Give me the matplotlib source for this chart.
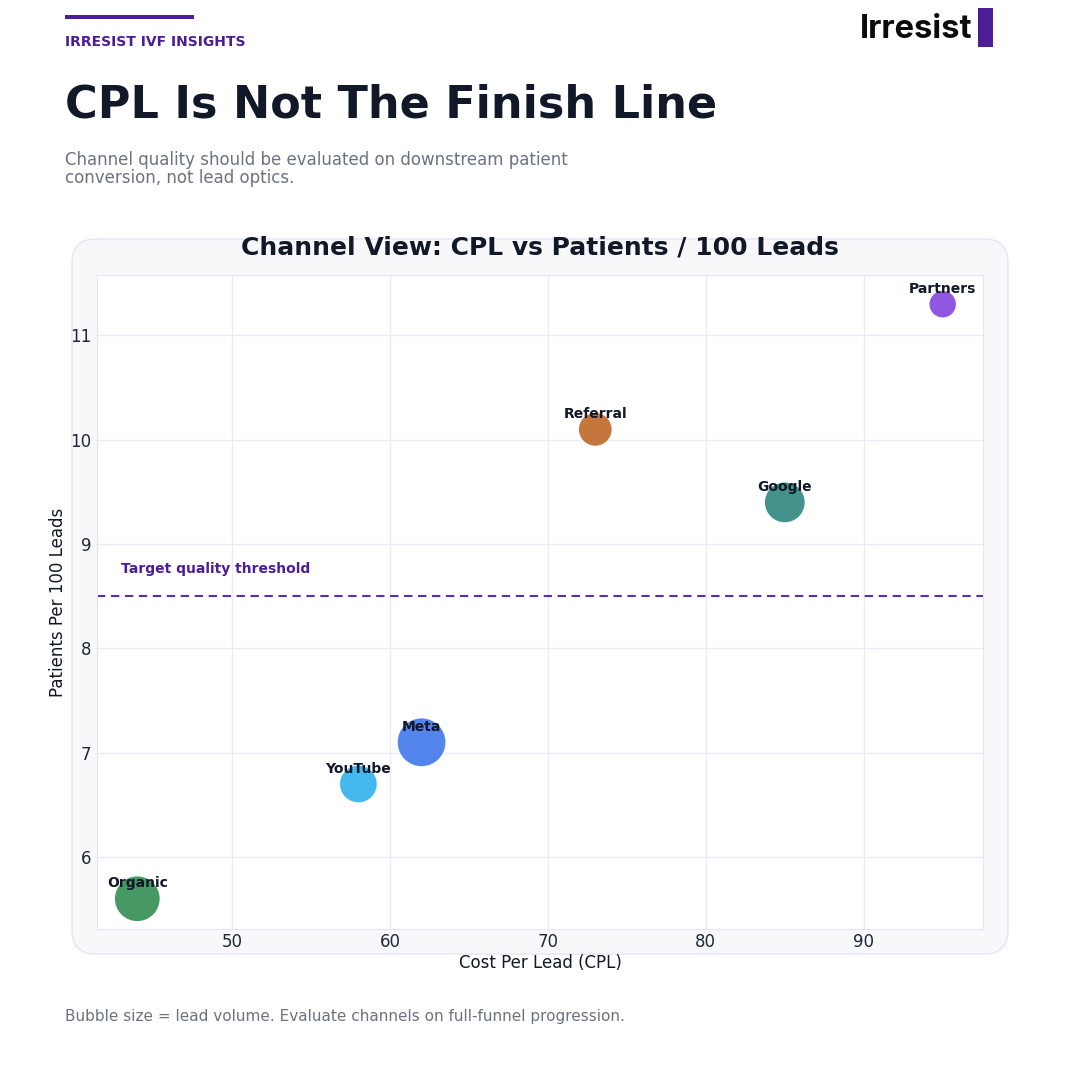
import matplotlib.pyplot as plt
from matplotlib.patches import FancyBboxPatch, Rectangle

plt.rcParams["font.family"] = "DejaVu Sans"

# channel data
channels = ["Partners", "Referral", "Google", "Meta", "YouTube", "Organic"]
cpl = [95, 73, 85, 62, 58, 44]
patients_per_100 = [11.3, 10.1, 9.4, 7.1, 6.7, 5.6]
lead_volume = [800, 1200, 1750, 2500, 1500, 2200]
colors = ["#8A4FE0", "#C26F32", "#3A8C86", "#4A7FEB", "#3BB5EE", "#3D945C"]
threshold = 8.5

DARK = "#111827"
GRAY = "#6B7280"
PURPLE = "#4C1D95"

fig = plt.figure(figsize=(10.8, 10.8), dpi=100)
W, H = 1080, 1080

def fx(px):
    return px / W

def fy(py):
    return 1 - py / H

# header
fig.patches.append(Rectangle((fx(65), fy(19)), fx(194) - fx(65), 4 / H,
                             transform=fig.transFigure, color=PURPLE, lw=0))
fig.text(fx(65), fy(42), "IRRESIST IVF INSIGHTS", fontsize=10, fontweight="bold",
         color=PURPLE, va="center")
fig.text(fx(65), fy(105), "CPL Is Not The Finish Line", fontsize=32, fontweight="bold",
         color=DARK, va="center")
fig.text(fx(65), fy(169), "Channel quality should be evaluated on downstream patient\nconversion, not lead optics.",
         fontsize=12, color=GRAY, va="center", linespacing=1.05)

# logo
fig.text(fx(972), fy(29), "Irresist", fontsize=23.5, fontweight="bold", family="Inter",
         color="#0B0B0B", ha="right", va="center")
fig.patches.append(Rectangle((fx(978), fy(47)), 15 / W, 39 / H,
                             transform=fig.transFigure, color=PURPLE, lw=0))

# card behind chart
card = FancyBboxPatch((fx(72), fy(954)), fx(1008) - fx(72), (954 - 239) / H,
                      boxstyle="round,pad=0,rounding_size=0.022",
                      transform=fig.transFigure, facecolor="#F8F8FB",
                      edgecolor="#E6E4F2", lw=1, zorder=-5)
fig.patches.append(card)

ax = fig.add_axes([fx(97), fy(929), (983 - 97) / W, (929 - 275) / H])
ax.set_zorder(2)
ax.set_facecolor("white")

sizes = [v / 2 for v in lead_volume]
ax.scatter(cpl, patients_per_100, s=sizes, c=colors, alpha=0.95,
           edgecolors="white", linewidths=1, zorder=3)

for name, x, y in zip(channels, cpl, patients_per_100):
    ax.annotate(name, (x, y), xytext=(0, 11), textcoords="offset points",
                ha="center", va="center", fontsize=10, fontweight="bold",
                color=DARK, zorder=4)

ax.axhline(threshold, color="#5B2DB5", ls=(0, (4, 2.7)), lw=1.5, zorder=2)
ax.text(43.0, 8.76, "Target quality threshold", fontsize=10, fontweight="bold",
        color="#4C1D95", va="center", ha="left")

ax.set_xlim(41.45, 97.55)
ax.set_ylim(5.31, 11.58)
ax.set_xticks([50, 60, 70, 80, 90])
ax.set_yticks([6, 7, 8, 9, 10, 11])
ax.grid(True, color="#ECEAF6", lw=1)
ax.set_axisbelow(True)
for s in ax.spines.values():
    s.set_color("#E6E4F2")
ax.tick_params(length=0, labelsize=12, colors="#1F2937")
ax.tick_params(axis="x", pad=3)
ax.tick_params(axis="y", pad=4)
ax.set_xlabel("Cost Per Lead (CPL)", fontsize=12, color=DARK, labelpad=2)
ax.set_ylabel("Patients Per 100 Leads", fontsize=12, color=DARK, labelpad=2)
ax.set_title("Channel View: CPL vs Patients / 100 Leads", fontsize=18,
             fontweight="bold", color=DARK, pad=15)

fig.text(fx(65), fy(1016), "Bubble size = lead volume. Evaluate channels on full-funnel progression.",
         fontsize=11, color=GRAY, va="center")

fig.savefig("out.png", dpi=100, facecolor="white")
